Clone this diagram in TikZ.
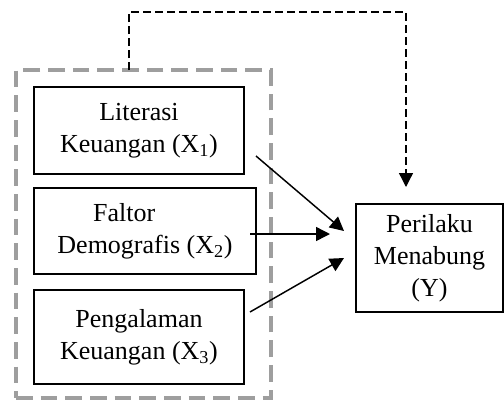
\documentclass[tikz,border=0pt]{standalone}
\usepackage{fontspec}
\setmainfont{Liberation Serif}
\usetikzlibrary{arrows.meta,calc}
\begin{document}
\begin{tikzpicture}[x=0.75pt,y=-0.75pt,
  box/.style={draw,line width=0.8pt,align=center,inner sep=0pt,
    font=\fontsize{19.5}{24}\selectfont},
  grpbox/.style={draw=black!38,line width=3pt,dash pattern=on 12.5pt off 6pt,inner sep=0pt},
  arr/.style={line width=1.1pt,-{Triangle[length=10.5pt,width=10.5pt]}},
  darr/.style={line width=1pt,dash pattern=on 6pt off 3pt,-{Triangle[length=10.5pt,width=10.5pt]}}]
\useasboundingbox (0,0) rectangle (504,401);
\node[grpbox,minimum width=255*0.75pt,minimum height=328*0.75pt] (grp) at (143.5,234) {};
\node[box,minimum width=210*0.75pt,minimum height=87*0.75pt] (x1) at (139,130.5) {Literasi\\Keuangan (X\textsubscript{1})};
\node[box,minimum width=222*0.75pt,minimum height=86*0.75pt] (x2) at (145,231) {Faltor\hspace*{1.6em}\\Demografis (X\textsubscript{2})};
\node[box,minimum width=210*0.75pt,minimum height=94*0.75pt] (x3) at (139,337) {Pengalaman\\Keuangan (X\textsubscript{3})};
\node[box,minimum width=147*0.75pt,minimum height=108*0.75pt] (y) at (429.5,258) {Perilaku\\Menabung\\(Y)};
\coordinate (s) at (129,70);
\coordinate (t) at (406,187);
\coordinate (a1) at (256,156);
\coordinate (b1) at (344,231);
\coordinate (a2) at (250,234);
\coordinate (b2) at (330,234);
\coordinate (a3) at (250,312);
\coordinate (b3) at (344,258);
\draw[darr] (s) -- (129,12) -| (t);
\draw[arr] (a1) -- (b1);
\draw[arr] (a2) -- (b2);
\draw[arr] (a3) -- (b3);
\end{tikzpicture}
\end{document}
